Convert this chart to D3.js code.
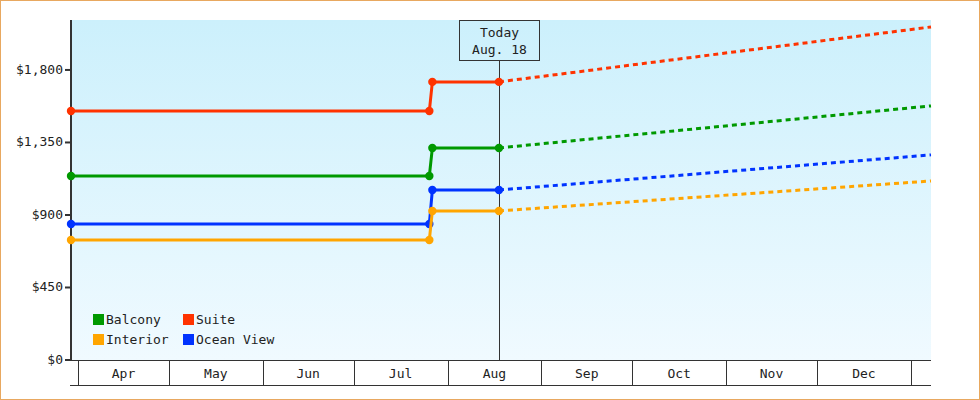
<!DOCTYPE html>
<html><head><meta charset="utf-8">
<script src="https://cdn.jsdelivr.net/npm/d3@7"></script>
<style>body{margin:0;background:#fff}text{font-family:"DejaVu Sans Mono",monospace;font-size:13px;fill:#222}</style>
</head><body><svg id="c" width="980" height="400"></svg>
<script>
// step dates: start, before jump, after jump, today, forecast end
var dates = ['2023-03-29T16:00', '2023-07-26', '2023-07-27', '2023-08-18', '2024-01-07T16:00'];
var seriesNames = ['Suite', 'Balcony', 'Ocean View', 'Interior'];
var seriesColors = ['#ff3300', '#009900', '#0033ff', '#ffa500'];
var suite = [1545, 1545, 1726, 1726, 2067];
var balcony = [1142, 1142, 1316, 1316, 1577];
var oceanView = [844, 844, 1055, 1055, 1273];
var interior = [745, 745, 925, 925, 1111];
var yTicks = [0, 450, 900, 1350, 1800];
var monthLabels = ['Apr', 'May', 'Jun', 'Jul', 'Aug', 'Sep', 'Oct', 'Nov', 'Dec'];
var legendOrder = [['Balcony', '#009900'], ['Suite', '#ff3300'], ['Interior', '#ffa500'], ['Ocean View', '#0033ff']];

var svg = d3.select('#c');
var L = 71, R = 931, T = 20, B = 360;
var parse = function (s) { return new Date(s.length > 10 ? s : s + 'T00:00'); };
var x = d3.scaleTime().domain([parse(dates[0]), parse(dates[4])]).range([L, R]);
var y = d3.scaleLinear().domain([0, 2110]).range([B, T]);

svg.append('rect').attr('x', 0.5).attr('y', 0.5).attr('width', 979).attr('height', 399)
    .attr('fill', '#fff').attr('stroke', '#e8a860');

var grad = svg.append('defs').append('linearGradient').attr('id', 'bg')
    .attr('x1', 0).attr('y1', 0).attr('x2', 0).attr('y2', 1);
grad.append('stop').attr('offset', 0).attr('stop-color', '#ccf0fc');
grad.append('stop').attr('offset', 1).attr('stop-color', '#f0faff');
svg.append('rect').attr('x', L).attr('y', T).attr('width', R - L).attr('height', B - T).attr('fill', 'url(#bg)');

// y axis
svg.append('line').attr('x1', L).attr('x2', L).attr('y1', T).attr('y2', B + 1)
    .attr('stroke', '#333').attr('stroke-width', 2);
yTicks.forEach(function (v) {
    svg.append('line').attr('x1', L - 6).attr('x2', L).attr('y1', y(v)).attr('y2', y(v))
        .attr('stroke', '#333').attr('stroke-width', 2);
    svg.append('text').attr('x', L - 8).attr('y', y(v) + 4).attr('text-anchor', 'end')
        .text('$' + d3.format(',')(v));
});

// x axis band
svg.append('line').attr('x1', L).attr('x2', R).attr('y1', B + 0.5).attr('y2', B + 0.5).attr('stroke', '#333');
svg.append('line').attr('x1', L - 1).attr('x2', R).attr('y1', 385.5).attr('y2', 385.5).attr('stroke', '#333');
var months = d3.timeMonth.range(new Date(2023, 3, 1), new Date(2024, 0, 2));
months.forEach(function (m, i) {
    var xm = Math.round(x(m)) + 0.5;
    svg.append('line').attr('x1', xm).attr('x2', xm).attr('y1', B).attr('y2', 385).attr('stroke', '#333');
    if (i < monthLabels.length) {
        var xn = x(months[i + 1]);
        svg.append('text').attr('x', (x(m) + xn) / 2).attr('y', 378).attr('text-anchor', 'middle').text(monthLabels[i]);
    }
});

// today marker
var tx = Math.round(x(parse(dates[3]))) + 0.5;
svg.append('line').attr('x1', tx).attr('x2', tx).attr('y1', 60).attr('y2', B).attr('stroke', '#333');
svg.append('rect').attr('x', tx - 40).attr('y', 20.5).attr('width', 80).attr('height', 40)
    .attr('fill', 'none').attr('stroke', '#333');
svg.append('text').attr('x', tx).attr('y', 37).attr('text-anchor', 'middle').text('Today');
svg.append('text').attr('x', tx).attr('y', 54).attr('text-anchor', 'middle').text('Aug. 18');

// series
var all = [suite, balcony, oceanView, interior];
var line = d3.line().x(function (d) { return x(d.date); }).y(function (d) { return y(d.v); });
all.forEach(function (vals, si) {
    var pts = vals.map(function (v, i) { return {date: parse(dates[i]), v: v}; });
    var c = seriesColors[si];
    svg.append('path').attr('d', line(pts.slice(0, 4))).attr('fill', 'none')
        .attr('stroke', c).attr('stroke-width', 3);
    svg.append('path').attr('d', line(pts.slice(3))).attr('fill', 'none')
        .attr('stroke', c).attr('stroke-width', 3).attr('stroke-dasharray', '5,4');
    pts.slice(0, 4).forEach(function (p) {
        svg.append('circle').attr('cx', x(p.date)).attr('cy', y(p.v)).attr('r', 4.2).attr('fill', c);
    });
});

// legend
legendOrder.forEach(function (d, i) {
    var lx = i % 2 === 0 ? 93 : 183, ly = i < 2 ? 314 : 334;
    svg.append('rect').attr('x', lx).attr('y', ly).attr('width', 11).attr('height', 11).attr('fill', d[1]);
    svg.append('text').attr('x', lx + 13).attr('y', ly + 10).text(d[0]);
});
</script></body></html>
